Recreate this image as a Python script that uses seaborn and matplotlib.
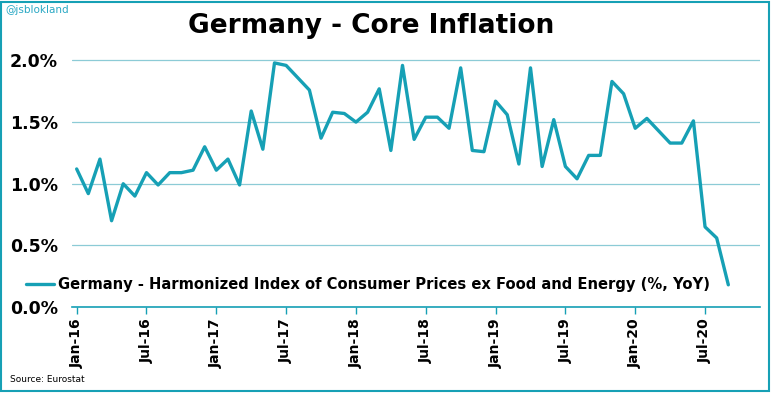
import matplotlib
matplotlib.use("Agg")
import matplotlib.pyplot as plt
import seaborn as sns
import pandas as pd
import numpy as np
from matplotlib.patches import Rectangle

months = pd.date_range("2016-01-01", "2020-09-01", freq="MS")
values = [1.12, 0.92, 1.20, 0.70, 1.00, 0.90, 1.09, 0.99, 1.09, 1.09, 1.11, 1.30,
          1.11, 1.20, 0.99, 1.59, 1.28, 1.98, 1.96, 1.86, 1.76, 1.37, 1.58, 1.57,
          1.50, 1.58, 1.77, 1.27, 1.96, 1.36, 1.54, 1.54, 1.45, 1.94, 1.27, 1.26,
          1.67, 1.56, 1.16, 1.94, 1.14, 1.52, 1.14, 1.04, 1.23, 1.23, 1.83, 1.73,
          1.45, 1.53, 1.43, 1.33, 1.33, 1.51, 0.65, 0.56, 0.18]
yticks = [0.0, 0.5, 1.0, 1.5, 2.0]
ytick_labels = ["0.0%", "0.5%", "1.0%", "1.5%", "2.0%"]
series_label = "Germany - Harmonized Index of Consumer Prices ex Food and Energy (%, YoY)"
title = "Germany - Core Inflation"

df = pd.DataFrame({"idx": np.arange(len(values)), "value": values, "month": months})

teal = "#16A0B5"
grid_c = "#8CCBD6"

sns.set_theme(style="white")
plt.rcParams['font.family'] = ['DejaVu Sans']
plt.rcParams['text.color'] = 'black'

fig = plt.figure(figsize=(7.71, 3.93), dpi=100)
ax = fig.add_axes([0.0934, 0.2188, 0.892, 0.643])

sns.lineplot(data=df, x="idx", y="value", ax=ax, color=teal, linewidth=2.4,
             label=series_label)

ax.set_xlim(-0.4, 58.7)
ax.set_ylim(0, 2.05)
ax.set_yticks(yticks)
ax.set_yticklabels(ytick_labels, fontsize=12.5, fontweight="bold", color="black")
ax.yaxis.grid(True, color=grid_c, linewidth=0.9)
ax.xaxis.grid(False)
ax.tick_params(axis="y", length=0, pad=10)

xt = df["idx"][::6].tolist()
xl = [m.strftime("%b-%y") for m in df["month"][::6]]
ax.set_xticks(xt)
ax.set_xticklabels(xl, rotation=90, fontsize=10, fontweight="bold", color="black")
ax.tick_params(axis="x", length=5, width=1, color=teal, direction="out", pad=3, bottom=True)
ax.set_xlabel("")
ax.set_ylabel("")

for s in ["top", "right", "left"]:
    ax.spines[s].set_visible(False)
ax.spines["bottom"].set_color(teal)
ax.spines["bottom"].set_linewidth(1.2)

leg = ax.legend(loc="lower left", bbox_to_anchor=(26/771, 1 - 292/393), bbox_transform=fig.transFigure,
                frameon=False, prop={"weight": "bold", "size": 10.65}, handlelength=1.9,
                handletextpad=0.25, borderaxespad=0, borderpad=0)
for t in leg.get_texts():
    t.set_color("black")

fig.text(0.482, 1 - 26/393, title, ha="center", va="center", fontsize=19, fontweight="bold",
         color="black")
fig.text(5/771, 1 - 10/393, "@jsblokland", ha="left", va="center", fontsize=7.5,
         color="#2AA8C4")
fig.text(10/771, 1 - 380/393, "Source: Eurostat", ha="left", va="center", fontsize=6.5,
         color="black")

fig.patches.append(Rectangle((0.001, 0.005), 0.997, 0.99, transform=fig.transFigure,
                             fill=False, edgecolor=teal, linewidth=1.5))

fig.savefig("out.png", dpi=100)
